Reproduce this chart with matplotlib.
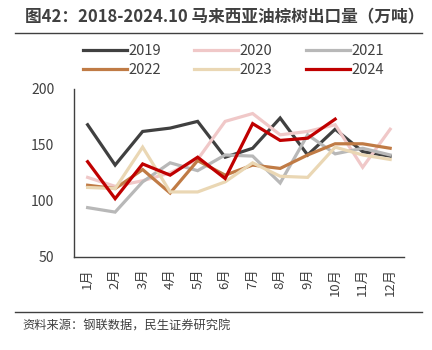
import matplotlib
matplotlib.use("Agg")
import matplotlib.pyplot as plt
from matplotlib.lines import Line2D

plt.rcParams['font.family'] = ['Noto Sans CJK SC', 'DejaVu Sans']

months = ['1月', '2月', '3月', '4月', '5月', '6月', '7月', '8月', '9月', '10月', '11月', '12月']

y2019 = [168, 132, 162, 165, 171, 139, 147, 174, 141, 164, 144, 140]
y2020 = [121, 113, 118, 125, 137, 171, 178, 159, 162, 168, 130, 164]
y2021 = [94, 90, 117, 134, 127, 141, 140, 116, 159, 142, 147, 141]
y2022 = [114, 111, 128, 107, 136, 123, 132, 129, 141, 151, 151, 147]
y2023 = [112, 111, 148, 108, 108, 117, 134, 122, 121, 148, 141, 137]
y2024 = [135, 102, 133, 123, 139, 120, 169, 154, 156, 173]

series = [
    ('2019', y2019, '#404040'),
    ('2020', y2020, '#F0C8C8'),
    ('2021', y2021, '#B8B8B8'),
    ('2022', y2022, '#C07B45'),
    ('2023', y2023, '#EAD7B4'),
    ('2024', y2024, '#C00000'),
]

fig = plt.figure(figsize=(4.32, 3.5), dpi=100)
ax = fig.add_axes([0.171, 0.266, 0.764, 0.48])

for name, vals, col in series:
    ax.plot(range(len(vals)), vals, color=col, lw=2.3, label=name,
            solid_joinstyle='miter')

ax.set_xlim(-0.5, 11.5)
ax.set_ylim(50, 200)
ax.set_yticks([50, 100, 150, 200])
ax.set_xticks(range(12))
ax.set_xticklabels(months, rotation=90, fontsize=9.5, color='#404040')
ax.tick_params(axis='both', length=0, colors='#404040')
ax.tick_params(axis='y', labelsize=10, pad=14)
ax.tick_params(axis='x', pad=8)
for s in ['top', 'right']:
    ax.spines[s].set_visible(False)
for s in ['left', 'bottom']:
    ax.spines[s].set_color('#404040')
    ax.spines[s].set_linewidth(1)

# legend fills by column, so reorder to get rows 2019-2021 / 2022-2024
order = [0, 3, 1, 4, 2, 5]
handles = [Line2D([], [], color=series[i][2], lw=2.3) for i in order]
labels = [series[i][0] for i in order]
fig.legend(handles, labels, ncol=3, frameon=False,
           loc='center', bbox_to_anchor=(0.54, 0.828), fontsize=10.5,
           handlelength=3.0, handletextpad=0.1, columnspacing=2.3,
           labelspacing=0.35, labelcolor='#404040')

fig.text(0.058, 0.951, '图42：2018-2024.10 马来西亚油棕树出口量（万吨）',
         fontsize=12, fontweight='bold', color='#404040', va='center')
fig.add_artist(Line2D([0.035, 0.977], [0.906, 0.906], color='#404040', lw=1))
fig.add_artist(Line2D([0.035, 0.977], [0.109, 0.109], color='#404040', lw=1))
fig.text(0.053, 0.068, '资料来源：钢联数据，民生证券研究院', fontsize=8.8,
         color='#404040', va='center')

fig.savefig('out.png', dpi=100)
